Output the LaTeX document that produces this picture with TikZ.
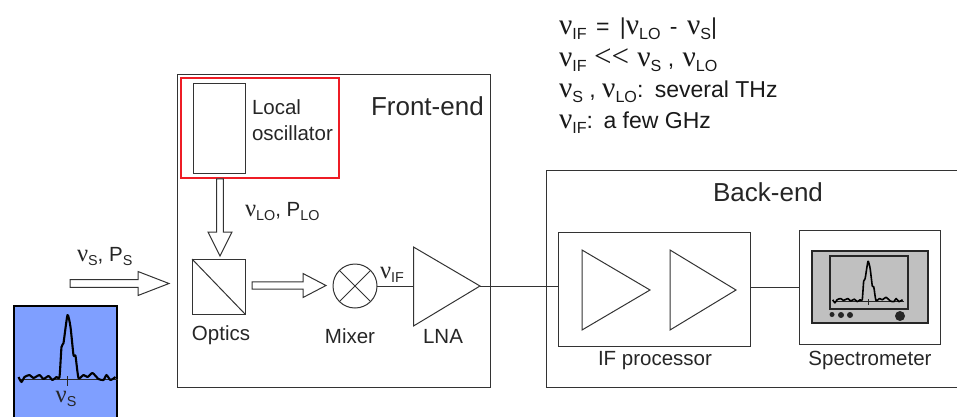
\documentclass[tikz,border=0pt]{standalone}
\usepackage{fontspec}
\usepackage{graphicx}
\setmainfont{Liberation Sans}
\newfontfamily\nuf{Liberation Serif}
\usetikzlibrary{calc}
\newcommand{\nusub}[2][1.28]{\scalebox{#1}{\nuf ν}\raisebox{-.22em}{\scalebox{.7}{#2}}}
\newcommand{\lowsub}[1]{\raisebox{-.22em}{\scalebox{.7}{#1}}}
\definecolor{ink}{HTML}{333333}
\definecolor{skyblue}{HTML}{7F9FFF}
\definecolor{screen}{HTML}{C0C0C0}
\definecolor{redbox}{HTML}{EE1C25}
\tikzset{
  x=1pt,y=-1pt,
  box/.style={draw=ink,line width=1pt,inner sep=0pt,outer sep=0pt,rectangle},
  lab/.style={font=\fontsize{20.5}{24}\selectfont,text=black!85,inner sep=0pt,outer sep=0pt},
  big/.style={font=\fontsize{26}{30}\selectfont,text=black!85,inner sep=0pt,outer sep=0pt},
  eq/.style={font=\fontsize{23}{27}\selectfont,text=black!90,inner sep=0pt,outer sep=0pt,anchor=base west},
  wire/.style={draw=ink,line width=1pt},
  amp/.style={draw=ink,line width=1pt,line join=miter},
  hollow/.style 2 args={draw=ink,line width=1pt,fill=white,line join=miter,
    to path={
      ($(\tikztostart)!#1!90:(\tikztotarget)$) --
      ($($(\tikztotarget)!#2!(\tikztostart)$)!#1!-90:(\tikztostart)$) --
      ($($(\tikztotarget)!#2!(\tikztostart)$)!12pt!-90:(\tikztostart)$) --
      (\tikztotarget) --
      ($($(\tikztotarget)!#2!(\tikztostart)$)!12pt!90:(\tikztostart)$) --
      ($($(\tikztotarget)!#2!(\tikztostart)$)!#1!90:(\tikztostart)$) --
      ($(\tikztostart)!#1!-90:(\tikztotarget)$) -- cycle}},
  pics/spec/.style={code={
    \draw[line width=.9pt,draw=black!85] (-49,0) -- (50,0);
    \draw[line width=.8pt,draw=black!85] (0,-3) -- (0,7);
    \draw[line width=#1,draw=black,line join=round]
      plot[smooth,tension=.35] coordinates {(-49,-2)(-46,3)(-43,-2)(-38,-4)(-34,-1)(-28,-4)(-24,0)(-19,-3)(-15,1)(-11,-2)(-8,-2)(-6,-32)(-4,-36)(0,-64)(3,-52)(6,-24)(8,-23)(11,-1)(16,-4)(20,-2)(25,-6)(31,0)(36,1)(39,-4)(43,1)(48,-2)};
  }}
}
\begin{document}
\begin{tikzpicture}
\useasboundingbox (0,0) rectangle (957,416);
% input spectrum
\draw[draw=black,line width=1.3pt,fill=skyblue] (14,420) -- (14,306) -- (117,306) -- (117,420);
\pic at (67.5,379) {spec=2.1pt};
\node[lab] (nus) at (66,399) {\nusub[1.2]{S}};
% front-end
\node[box,minimum width=313pt,minimum height=313pt] (front) at (333.5,230.5) {};
\node[big,anchor=base west] (frontlab) at (371,115) {Front-end};
\node[draw=redbox,line width=1.6pt,minimum width=158pt,minimum height=100pt,inner sep=0pt,outer sep=0pt] (red) at (260,128) {};
\node[box,minimum width=52pt,minimum height=90pt] (lo) at (219.5,128) {};
\node[lab,anchor=base west] (local) at (252,114) {Local};
\node[lab,anchor=base west] (osc) at (252,140) {oscillator};
\node[box,minimum width=53pt,minimum height=55pt] (optics) at (218.5,286.5) {};
\draw[wire] (optics.north west) -- (optics.south east);
\node[lab] (opticslab) at (221,335) {Optics};
\node[draw=ink,line width=1pt,circle,minimum size=44pt,inner sep=0pt,outer sep=0pt] (mixer) at (355,286) {};
\draw[wire] (mixer.45) -- (mixer.225) (mixer.135) -- (mixer.315);
\node[lab] (mixerlab) at (350,336) {Mixer};
\coordinate (lnaA) at (413.5,247);
\coordinate (lnaB) at (413.5,326);
\coordinate (lnaC) at (480,286);
\coordinate (lnaIn) at (413.5,286);
\draw[amp] (lnaA) -- (lnaC) -- (lnaB) -- cycle;
\node[lab] (lnalab) at (443,336) {LNA};
\draw[wire] (mixer.east) -- (lnaIn);
\node[lab,anchor=base west] (nuif) at (380,278) {\nusub[1.2]{IF}};
\node[lab,anchor=base west] (nulo) at (245,216) {\nusub[1.2]{LO}, P\lowsub{LO}};
% hollow arrows
\coordinate (loOut) at (220,178.8);
\coordinate (optIn) at (220,256);
\draw[hollow={3.4pt}{24pt}] (loOut) to (optIn);
\coordinate (optOut) at (252,285.5);
\coordinate (mixIn) at (326,285.5);
\draw[hollow={3.6pt}{23pt}] (optOut) to (mixIn);
\coordinate (inFrom) at (70,283.5);
\coordinate (inTo) at (169,283.5);
\draw[hollow={3.8pt}{31pt}] (inFrom) to (inTo);
\node[lab,anchor=base west] (nups) at (77,261) {\nusub[1.2]{S}, P\lowsub{S}};
% back-end
\draw[draw=ink,line width=1pt] (960,170) -- (546,170) -- (546,387) -- (960,387);
\node[big] (backlab) at (768,192) {Back-end};
\node[box,minimum width=192pt,minimum height=114pt] (ifp) at (654,289.5) {};
\coordinate (ampAa) at (582,250);
\coordinate (ampAb) at (582,330);
\coordinate (ampAc) at (650,290);
\coordinate (ampBa) at (670,250);
\coordinate (ampBb) at (670,330);
\coordinate (ampBc) at (736,290);
\draw[amp] (ampAa) -- (ampAc) -- (ampAb) -- cycle;
\draw[amp] (ampBa) -- (ampBc) -- (ampBb) -- cycle;
\node[lab] (ifplab) at (655,361) {IF processor};
\node[box,minimum width=141pt,minimum height=114pt] (specbox) at (870,287) {};
\node[lab] (speclab) at (870,360) {Spectrometer};
\draw[wire] (lnaC) -- (lnaC -| ifp.west);
\draw[wire] (ifp.east |- specbox.west) -- (specbox.west);
% spectrometer screen
\node[draw=black!85,line width=1.5pt,fill=screen,minimum width=116pt,minimum height=72pt,inner sep=0pt,outer sep=0pt] (scr) at (870,287) {};
\node[draw=black!85,line width=1.5pt,fill=screen,minimum width=78pt,minimum height=53pt,inner sep=0pt,outer sep=0pt] (disp) at (869,282.5) {};
\pic[xscale=.72,yscale=.62] at (868,301) {spec=1.6pt};
\fill[black!85] (832,314.5) circle (2.5) (841,315) circle (3) (850,315) circle (3) (900,316) circle (5);
% equations
\node[eq] (e1) at (559,34) {\nusub{IF}\hspace{3pt} = \hspace{4pt}|\nusub{LO}\hspace{3pt} - \hspace{3pt}\nusub{S}|};
\node[eq] (e2) at (559,66) {\nusub{IF}\hspace{1pt} {\nuf\scalebox{1.35}{<<}} \hspace{2pt}\nusub{S} , \hspace{2pt}\nusub{LO}};
\node[eq] (e3) at (559,97) {\nusub{S} , \nusub{LO}:\hspace{3pt} several THz};
\node[eq] (e4) at (559,128) {\nusub{IF}:\hspace{2pt} a few GHz};
\end{tikzpicture}
\end{document}
